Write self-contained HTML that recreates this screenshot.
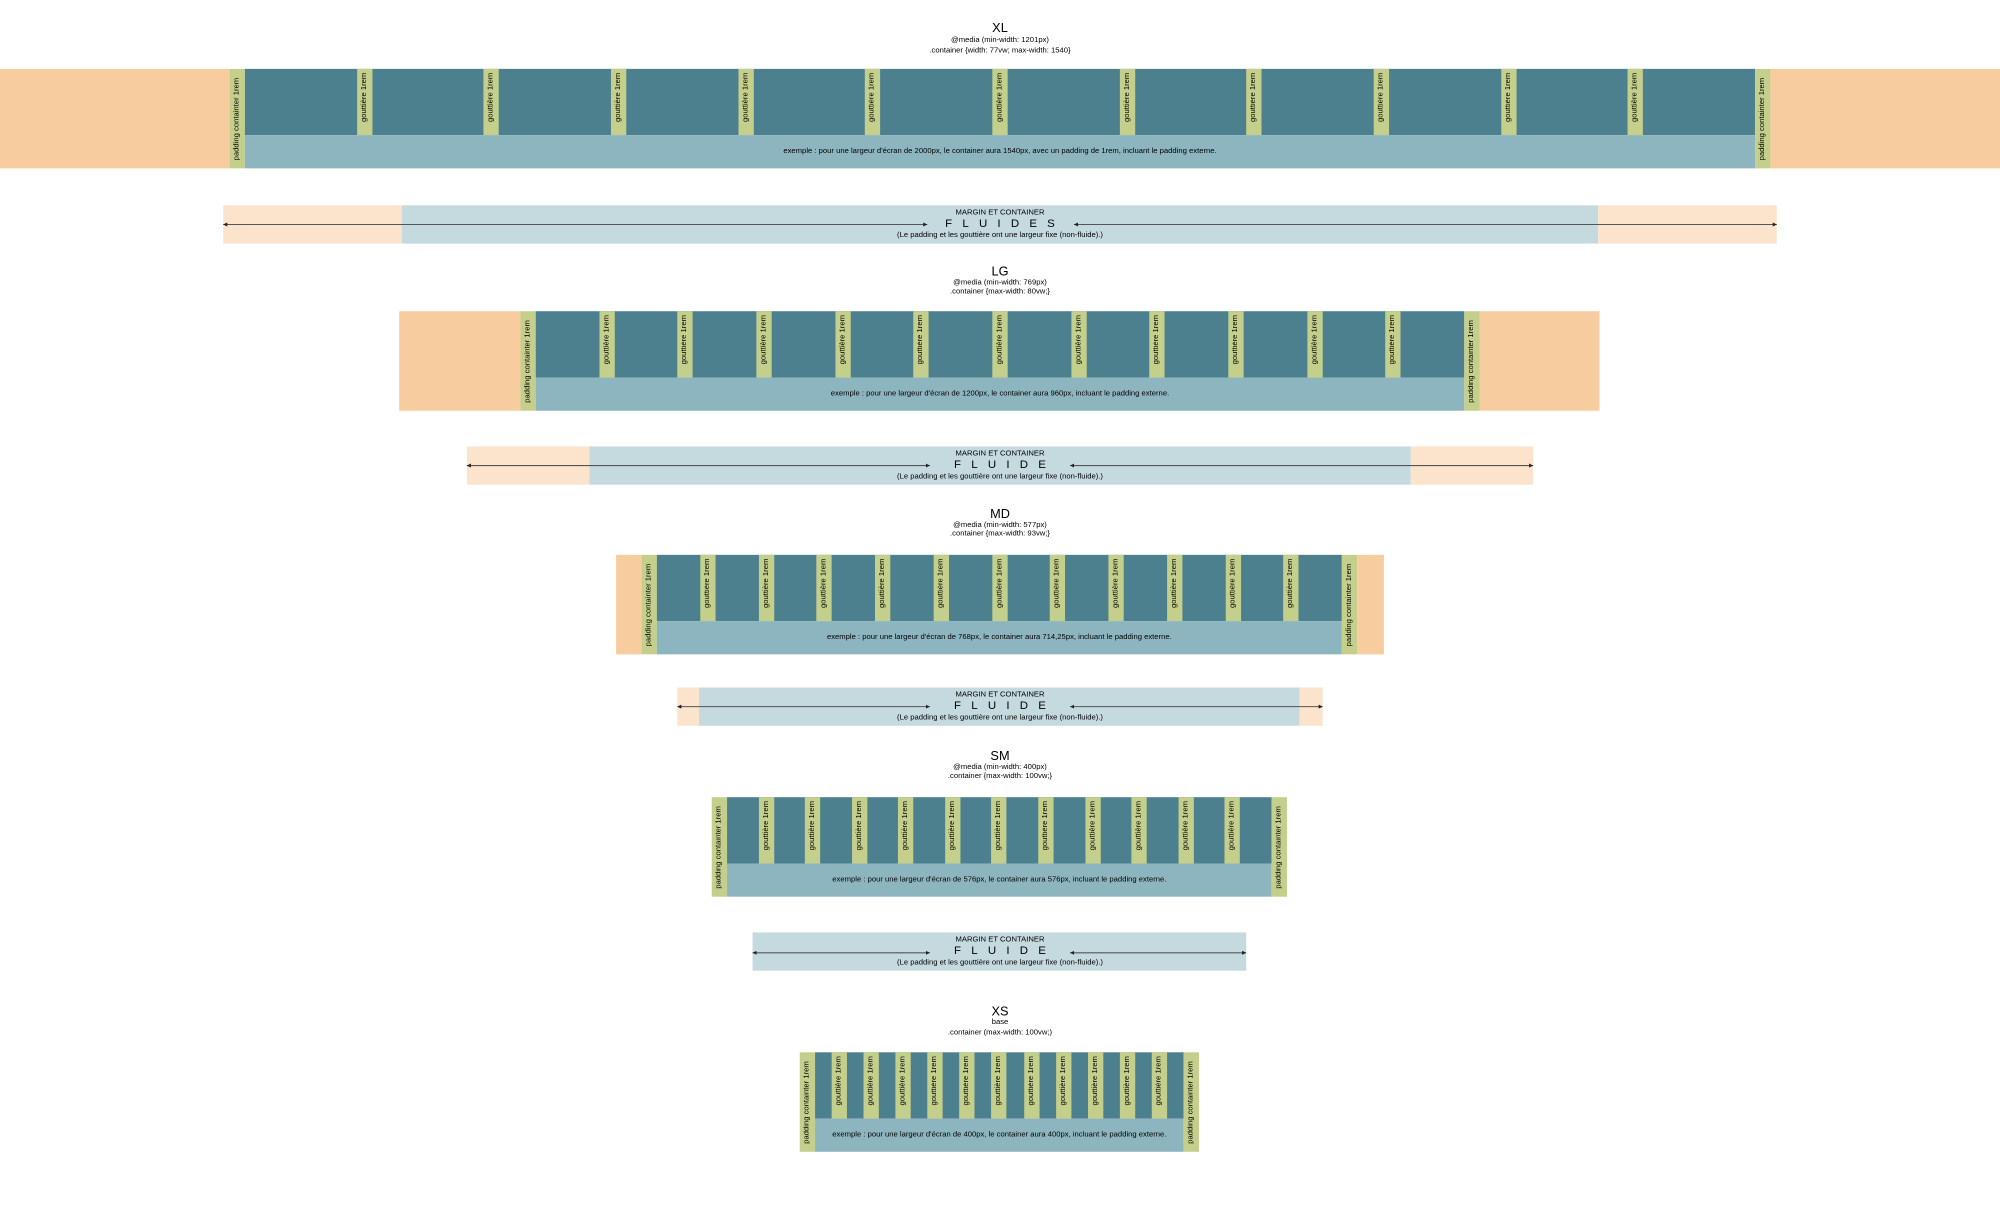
<!DOCTYPE html>
<html><head><meta charset="utf-8">
<style>
html,body{margin:0;padding:0;background:#fff;}
body{width:2000px;height:1210px;overflow:hidden;position:relative;font-family:"Liberation Sans",Arial,sans-serif;color:#000;}
#w{position:absolute;left:0;top:0;width:1568px;height:949px;transform:scale(1.27551);transform-origin:0 0;}
.a{position:absolute;}
.t{position:absolute;left:0;width:1568px;text-align:center;line-height:1;}
.h{font-size:10px;}
.s{font-size:6px;}
.bar{position:absolute;height:78px;display:flex;}
.pad{width:12px;height:78px;background:#c3cf8b;display:flex;align-items:center;justify-content:center;}
.mid{flex:1;display:flex;flex-direction:column;}
.top{height:52px;display:flex;background:#4d808f;}
.c{flex:1;}
.g{width:12px;background:#c3cf8b;display:flex;align-items:flex-start;justify-content:center;}
.v{writing-mode:vertical-rl;transform:rotate(180deg);font-size:6px;white-space:nowrap;padding-bottom:3px;line-height:12px;}
.pad .v{padding:0;}
.bot{height:26px;background:#8db5bf;display:flex;align-items:center;justify-content:center;font-size:6px;white-space:nowrap;}
.or{position:absolute;background:#f7cd9f;height:78px;}
.band{position:absolute;height:30px;}
.bo{background:#fbe3cc;}
.bb{background:#c5dadf;}
.f{font-size:9px;letter-spacing:8px;}
</style></head><body><div id="w">

<!-- XL -->
<div class="t h" style="top:18px">XL</div>
<div class="t s" style="top:29px">@media (min-width: 1201px)</div>
<div class="t s" style="top:37px">.container {width: 77vw; max-width: 1540}</div>
<div class="or" style="left:0;top:54px;width:180px"></div>
<div class="or" style="left:1388px;top:54px;width:180px"></div>
<div class="bar" style="left:180px;top:54px;width:1208px">
<div class="pad"><span class="v">padding containter 1rem</span></div>
<div class="mid"><div class="top">
<div class="c"></div><div class="g"><span class="v">gouttière 1rem</span></div><div class="c"></div><div class="g"><span class="v">gouttière 1rem</span></div><div class="c"></div><div class="g"><span class="v">gouttière 1rem</span></div><div class="c"></div><div class="g"><span class="v">gouttière 1rem</span></div><div class="c"></div><div class="g"><span class="v">gouttière 1rem</span></div><div class="c"></div><div class="g"><span class="v">gouttière 1rem</span></div><div class="c"></div><div class="g"><span class="v">gouttière 1rem</span></div><div class="c"></div><div class="g"><span class="v">gouttière 1rem</span></div><div class="c"></div><div class="g"><span class="v">gouttière 1rem</span></div><div class="c"></div><div class="g"><span class="v">gouttière 1rem</span></div><div class="c"></div><div class="g"><span class="v">gouttière 1rem</span></div><div class="c"></div>
</div><div class="bot">exemple : pour une largeur d'écran de 2000px, le container aura 1540px, avec un padding de 1rem, incluant le padding externe.</div></div>
<div class="pad"><span class="v">padding containter 1rem</span></div>
</div>

<!-- band 1 -->
<div class="band bo" style="left:175px;top:161px;width:140px"></div>
<div class="band bb" style="left:315px;top:161px;width:938px"></div>
<div class="band bo" style="left:1253px;top:161px;width:140px"></div>
<div class="t s" style="top:164px">MARGIN ET CONTAINER</div>
<div class="t f" style="top:171px;padding-left:8px;box-sizing:border-box">FLUIDES</div>
<div class="t s" style="top:182px">(Le padding et les gouttière ont une largeur fixe (non-fluide).)</div>

<!-- LG -->
<div class="t h" style="top:209px">LG</div>
<div class="t s" style="top:219px">@media (min-width: 769px)</div>
<div class="t s" style="top:226px">.container {max-width: 80vw;}</div>
<div class="or" style="left:313px;top:244px;width:95px"></div>
<div class="or" style="left:1160px;top:244px;width:94px"></div>
<div class="bar" style="left:408px;top:244px;width:752px">
<div class="pad"><span class="v">padding containter 1rem</span></div>
<div class="mid"><div class="top">
<div class="c"></div><div class="g"><span class="v">gouttière 1rem</span></div><div class="c"></div><div class="g"><span class="v">gouttière 1rem</span></div><div class="c"></div><div class="g"><span class="v">gouttière 1rem</span></div><div class="c"></div><div class="g"><span class="v">gouttière 1rem</span></div><div class="c"></div><div class="g"><span class="v">gouttière 1rem</span></div><div class="c"></div><div class="g"><span class="v">gouttière 1rem</span></div><div class="c"></div><div class="g"><span class="v">gouttière 1rem</span></div><div class="c"></div><div class="g"><span class="v">gouttière 1rem</span></div><div class="c"></div><div class="g"><span class="v">gouttière 1rem</span></div><div class="c"></div><div class="g"><span class="v">gouttière 1rem</span></div><div class="c"></div><div class="g"><span class="v">gouttière 1rem</span></div><div class="c"></div>
</div><div class="bot">exemple : pour une largeur d'écran de 1200px, le container aura 960px, incluant le padding externe.</div></div>
<div class="pad"><span class="v">padding containter 1rem</span></div>
</div>

<!-- band 2 -->
<div class="band bo" style="left:366px;top:350px;width:96px"></div>
<div class="band bb" style="left:462px;top:350px;width:644px"></div>
<div class="band bo" style="left:1106px;top:350px;width:96px"></div>
<div class="t s" style="top:353px">MARGIN ET CONTAINER</div>
<div class="t f" style="top:360px;padding-left:8px;box-sizing:border-box">FLUIDE</div>
<div class="t s" style="top:371px">(Le padding et les gouttière ont une largeur fixe (non-fluide).)</div>

<!-- MD -->
<div class="t h" style="top:399px">MD</div>
<div class="t s" style="top:409px">@media (min-width: 577px)</div>
<div class="t s" style="top:416px">.container {max-width: 93vw;}</div>
<div class="or" style="left:483px;top:435px;width:20px"></div>
<div class="or" style="left:1064px;top:435px;width:21px"></div>
<div class="bar" style="left:503px;top:435px;width:561px">
<div class="pad"><span class="v">padding containter 1rem</span></div>
<div class="mid"><div class="top">
<div class="c"></div><div class="g"><span class="v">gouttière 1rem</span></div><div class="c"></div><div class="g"><span class="v">gouttière 1rem</span></div><div class="c"></div><div class="g"><span class="v">gouttière 1rem</span></div><div class="c"></div><div class="g"><span class="v">gouttière 1rem</span></div><div class="c"></div><div class="g"><span class="v">gouttière 1rem</span></div><div class="c"></div><div class="g"><span class="v">gouttière 1rem</span></div><div class="c"></div><div class="g"><span class="v">gouttière 1rem</span></div><div class="c"></div><div class="g"><span class="v">gouttière 1rem</span></div><div class="c"></div><div class="g"><span class="v">gouttière 1rem</span></div><div class="c"></div><div class="g"><span class="v">gouttière 1rem</span></div><div class="c"></div><div class="g"><span class="v">gouttière 1rem</span></div><div class="c"></div>
</div><div class="bot">exemple : pour une largeur d'écran de 768px, le container aura 714,25px, incluant le padding externe.</div></div>
<div class="pad"><span class="v">padding containter 1rem</span></div>
</div>

<!-- band 3 -->
<div class="band bo" style="left:531px;top:539px;width:17px"></div>
<div class="band bb" style="left:548px;top:539px;width:471px"></div>
<div class="band bo" style="left:1019px;top:539px;width:18px"></div>
<div class="t s" style="top:542px">MARGIN ET CONTAINER</div>
<div class="t f" style="top:549px;padding-left:8px;box-sizing:border-box">FLUIDE</div>
<div class="t s" style="top:560px">(Le padding et les gouttière ont une largeur fixe (non-fluide).)</div>

<!-- SM -->
<div class="t h" style="top:589px">SM</div>
<div class="t s" style="top:599px">@media (min-width: 400px)</div>
<div class="t s" style="top:606px">.container {max-width: 100vw;}</div>
<div class="bar" style="left:558px;top:625px;width:451px">
<div class="pad"><span class="v">padding containter 1rem</span></div>
<div class="mid"><div class="top">
<div class="c"></div><div class="g"><span class="v">gouttière 1rem</span></div><div class="c"></div><div class="g"><span class="v">gouttière 1rem</span></div><div class="c"></div><div class="g"><span class="v">gouttière 1rem</span></div><div class="c"></div><div class="g"><span class="v">gouttière 1rem</span></div><div class="c"></div><div class="g"><span class="v">gouttière 1rem</span></div><div class="c"></div><div class="g"><span class="v">gouttière 1rem</span></div><div class="c"></div><div class="g"><span class="v">gouttière 1rem</span></div><div class="c"></div><div class="g"><span class="v">gouttière 1rem</span></div><div class="c"></div><div class="g"><span class="v">gouttière 1rem</span></div><div class="c"></div><div class="g"><span class="v">gouttière 1rem</span></div><div class="c"></div><div class="g"><span class="v">gouttière 1rem</span></div><div class="c"></div>
</div><div class="bot">exemple : pour une largeur d'écran de 576px, le container aura 576px, incluant le padding externe.</div></div>
<div class="pad"><span class="v">padding containter 1rem</span></div>
</div>

<!-- band 4 -->
<div class="band bb" style="left:590px;top:731px;width:387px"></div>
<div class="t s" style="top:734px">MARGIN ET CONTAINER</div>
<div class="t f" style="top:741px;padding-left:8px;box-sizing:border-box">FLUIDE</div>
<div class="t s" style="top:752px">(Le padding et les gouttière ont une largeur fixe (non-fluide).)</div>

<!-- XS -->
<div class="t h" style="top:789px">XS</div>
<div class="t s" style="top:799px">base</div>
<div class="t s" style="top:807px">.container (max-width: 100vw;)</div>
<div class="bar" style="left:627px;top:825px;width:313px">
<div class="pad"><span class="v">padding containter 1rem</span></div>
<div class="mid"><div class="top">
<div class="c"></div><div class="g"><span class="v">gouttière 1rem</span></div><div class="c"></div><div class="g"><span class="v">gouttière 1rem</span></div><div class="c"></div><div class="g"><span class="v">gouttière 1rem</span></div><div class="c"></div><div class="g"><span class="v">gouttière 1rem</span></div><div class="c"></div><div class="g"><span class="v">gouttière 1rem</span></div><div class="c"></div><div class="g"><span class="v">gouttière 1rem</span></div><div class="c"></div><div class="g"><span class="v">gouttière 1rem</span></div><div class="c"></div><div class="g"><span class="v">gouttière 1rem</span></div><div class="c"></div><div class="g"><span class="v">gouttière 1rem</span></div><div class="c"></div><div class="g"><span class="v">gouttière 1rem</span></div><div class="c"></div><div class="g"><span class="v">gouttière 1rem</span></div><div class="c"></div>
</div><div class="bot">exemple : pour une largeur d'écran de 400px, le container aura 400px, incluant le padding externe.</div></div>
<div class="pad"><span class="v">padding containter 1rem</span></div>
</div>

<svg class="a" style="left:0;top:0" width="1568" height="949" viewBox="0 0 1568 949">
<defs>
<marker id="m" viewBox="0 0 10 10" refX="10" refY="5" markerWidth="4" markerHeight="4" orient="auto-start-reverse"><path d="M0,0L10,5L0,10z" fill="#222"/></marker>
</defs>
<g stroke="#555" stroke-width="0.8" fill="none">
<line x1="175" y1="176" x2="727" y2="176" marker-start="url(#m)" marker-end="url(#m)"/>
<line x1="842" y1="176" x2="1393" y2="176" marker-start="url(#m)" marker-end="url(#m)"/>
<line x1="366" y1="365" x2="729" y2="365" marker-start="url(#m)" marker-end="url(#m)"/>
<line x1="839" y1="365" x2="1202" y2="365" marker-start="url(#m)" marker-end="url(#m)"/>
<line x1="531" y1="554" x2="729" y2="554" marker-start="url(#m)" marker-end="url(#m)"/>
<line x1="839" y1="554" x2="1037" y2="554" marker-start="url(#m)" marker-end="url(#m)"/>
<line x1="590" y1="747" x2="729" y2="747" marker-start="url(#m)" marker-end="url(#m)"/>
<line x1="839" y1="747" x2="977" y2="747" marker-start="url(#m)" marker-end="url(#m)"/>
</g>
</svg>
</div></body></html>
